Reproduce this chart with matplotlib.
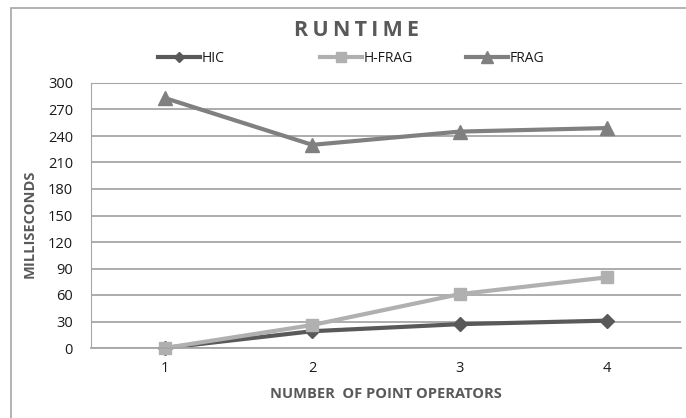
import matplotlib.pyplot as plt
from matplotlib.patches import Rectangle

plt.rcParams["font.family"] = ["Open Sans", "DejaVu Sans"]

operators = [1, 2, 3, 4]
hic = [0, 19, 27, 31]
hfrag = [0, 26, 61, 80]
frag = [283, 230, 245, 249]
yticks = list(range(0, 301, 30))

fig = plt.figure(figsize=(6.86, 4.18), dpi=100)
ax = fig.add_axes([91 / 686, 70 / 418, 590 / 686, 265 / 418])

# outer chart border
fig.patches.append(Rectangle((11 / 686, -0.1), 1.2, 1 - 8 / 418 + 0.1,
                             transform=fig.transFigure, fill=False,
                             edgecolor="#a6a6a6", lw=1.2))

xpos = [i for i in range(len(operators))]
l1, = ax.plot(xpos, hic, color="#595959", lw=3, marker="D", ms=7, clip_on=False)
l2, = ax.plot(xpos, hfrag, color="#b0b0b0", lw=3, marker="s", ms=9, clip_on=False)
l3, = ax.plot(xpos, frag, color="#808080", lw=3, marker="^", ms=10, clip_on=False)

ax.set_xlim(-0.5, len(operators) - 0.5)
ax.set_ylim(0, 300)
ax.set_yticks(yticks)
ax.set_xticks(xpos)
ax.set_xticklabels([str(o) for o in operators])
ax.yaxis.grid(True, color="#a6a6a6", lw=1.3)
ax.set_axisbelow(True)
ax.tick_params(length=0, labelsize=10.5, colors="#1a1a1a")
ax.tick_params(axis="y", pad=13)
ax.tick_params(axis="x", pad=9)
for s in ["left", "top"]:
    ax.spines[s].set_color("#a6a6a6")
ax.spines["bottom"].set_color("#a6a6a6")
ax.spines["bottom"].set_linewidth(1.3)
ax.spines["right"].set_visible(False)

ax.set_ylabel("MILLISECONDS", fontsize=10.5, fontweight="bold", color="#595959")
ax.yaxis.set_label_coords(-0.092, 0.47)
ax.set_xlabel("NUMBER  OF POINT OPERATORS", fontsize=10.5, fontweight="bold",
              color="#595959", labelpad=8)

fig.text(357 / 686, 1 - 31 / 418, "R\u2009U\u2009N\u2009T\u2009I\u2009M\u2009E",
         fontsize=15.5, fontweight="bold", color="#595959", ha="center", va="center")

for line, name, x in [(l1, "HIC", 158), (l2, "H-FRAG", 320), (l3, "FRAG", 466)]:
    leg = fig.legend([line], [name], loc="center left",
                     bbox_to_anchor=(x / 686, 1 - 58 / 418), frameon=False,
                     handlelength=3.0, handletextpad=0.15, borderpad=0,
                     borderaxespad=0, fontsize=10, markerscale=0.8)
    for t in leg.get_texts():
        t.set_color("#1a1a1a")

fig.savefig("out.png", dpi=100)
